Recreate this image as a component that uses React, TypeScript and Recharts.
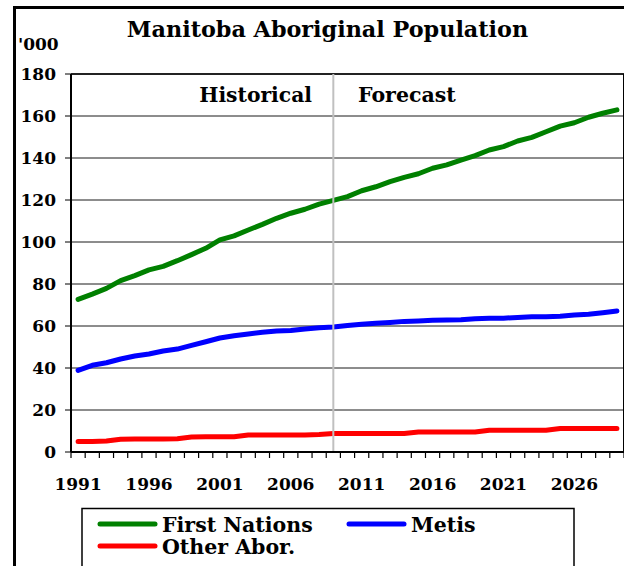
import React from 'react';
import { LineChart, Line, XAxis, YAxis, CartesianGrid, ReferenceLine } from 'recharts';

const years = [
  1991, 1992, 1993, 1994, 1995, 1996, 1997, 1998, 1999, 2000,
  2001, 2002, 2003, 2004, 2005, 2006, 2007, 2008, 2009, 2010,
  2011, 2012, 2013, 2014, 2015, 2016, 2017, 2018, 2019, 2020,
  2021, 2022, 2023, 2024, 2025, 2026, 2027, 2028, 2029,
];

const firstNations = [
  72.7, 75.2, 77.9, 81.6, 84.0, 86.7, 88.4, 91.1, 94.0, 97.0,
  101.0, 102.9, 105.7, 108.4, 111.3, 113.7, 115.6, 118.0, 119.8, 121.6,
  124.4, 126.3, 128.7, 130.8, 132.5, 135.1, 136.7, 139.0, 141.1, 143.8,
  145.4, 148.1, 149.8, 152.5, 155.2, 156.8, 159.4, 161.3, 162.9,
];

const metis = [
  38.9, 41.3, 42.5, 44.3, 45.7, 46.7, 48.1, 49.0, 50.8, 52.5,
  54.3, 55.4, 56.2, 57.0, 57.6, 57.9, 58.6, 59.2, 59.5, 60.2,
  60.8, 61.3, 61.7, 62.2, 62.4, 62.7, 62.9, 63.0, 63.5, 63.7,
  63.7, 64.1, 64.4, 64.4, 64.6, 65.2, 65.6, 66.3, 67.1,
];

const otherAbor = [
  5.0, 5.0, 5.2, 6.1, 6.2, 6.2, 6.2, 6.3, 7.1, 7.3,
  7.3, 7.3, 8.1, 8.1, 8.1, 8.1, 8.1, 8.3, 8.8, 8.8,
  8.8, 8.8, 8.8, 8.8, 9.5, 9.5, 9.5, 9.5, 9.5, 10.4,
  10.4, 10.4, 10.4, 10.4, 11.2, 11.2, 11.2, 11.2, 11.2,
];

const yTicks = [0, 20, 40, 60, 80, 100, 120, 140, 160, 180];
const xLabelYears = [1991, 1996, 2001, 2006, 2011, 2016, 2021, 2026];
const dividerYear = 2009;

const seriesNames = ['First Nations', 'Metis', 'Other Abor.'];
const seriesKeys = ['fn', 'metis', 'other'];
const seriesColors = ['#008000', '#0000ff', '#ff0000'];

const data = years.map((year, i) => ({
  year,
  fn: firstNations[i],
  metis: metis[i],
  other: otherAbor[i],
}));

const xMin = years[0] - 0.5;
const xMax = years[years.length - 1] + 0.5;
const boundaries = [...years.map((y) => y - 0.5), xMax];
const xTicks = [...boundaries, ...xLabelYears].sort((a, b) => a - b);

const FONT = '"DejaVu Serif", serif';

const renderXTick = (props: any) => {
  const { x, y, payload } = props;
  const v = payload.value;
  if (!Number.isInteger(v)) {
    return <line x1={x} x2={x} y1={y} y2={y + 6} stroke="#000" strokeWidth={1.2} />;
  }
  return (
    <text x={x} y={y + 38} textAnchor="middle" fontFamily={FONT} fontWeight="bold" fontSize={17} fill="#000">
      {v}
    </text>
  );
};

const legendCols = [100, 349];
const legendRows = [524, 546];

export default function App() {
  return (
    <div style={{ position: 'fixed', left: 0, top: 0, width: 624, height: 566, overflow: 'hidden', background: '#fff' }}>
      <div style={{ position: 'absolute', left: 13, top: 6, width: 700, height: 700, borderLeft: '3px solid #000', borderTop: '3px solid #000' }} />
      <div style={{ position: 'absolute', left: 0, top: 0 }}>
        <LineChart width={624} height={566} data={data} margin={{ top: 74, right: 0, bottom: 74, left: 11 }}>
          <CartesianGrid vertical={false} stroke="#1a1a1a" strokeWidth={1} />
          <XAxis
            dataKey="year"
            type="number"
            domain={[xMin, xMax]}
            ticks={xTicks}
            tick={renderXTick}
            tickLine={false}
            tickSize={0}
            tickMargin={0}
            interval={0}
            height={40}
            axisLine={{ stroke: '#000', strokeWidth: 2 }}
            allowDataOverflow
          />
          <YAxis
            type="number"
            domain={[0, 180]}
            ticks={yTicks}
            interval={0}
            width={60}
            tickSize={6}
            tickMargin={9}
            tickLine={{ stroke: '#000', strokeWidth: 1 }}
            axisLine={{ stroke: '#000', strokeWidth: 2 }}
            tick={{ fontFamily: FONT, fontWeight: 700, fontSize: 17, fill: '#000' }}
          />
          <ReferenceLine y={180} stroke="#000" strokeWidth={1.5} />
          <ReferenceLine x={xMax} stroke="#000" strokeWidth={2} />
          {seriesKeys.map((k, i) => (
            <Line
              key={k}
              type="linear"
              dataKey={k}
              name={seriesNames[i]}
              stroke={seriesColors[i]}
              strokeWidth={5}
              strokeLinecap="round"
              strokeLinejoin="round"
              dot={false}
              activeDot={false}
              isAnimationActive={false}
            />
          ))}
          <ReferenceLine x={dividerYear} stroke="#c0c0c0" strokeWidth={2} />
        </LineChart>
      </div>
      <svg width={624} height={566} style={{ position: 'absolute', left: 0, top: 0, pointerEvents: 'none' }}>
        <text x={327.5} y={37} textAnchor="middle" fontFamily={FONT} fontWeight="bold" fontSize={22.3} fill="#000">
          Manitoba Aboriginal Population
        </text>
        <text x={18} y={50} fontFamily={FONT} fontWeight="bold" fontSize={17} fill="#000">
          '000
        </text>
        <text x={312} y={102} textAnchor="end" fontFamily={FONT} fontWeight="bold" fontSize={20.3} fill="#000">
          Historical
        </text>
        <text x={358} y={102} fontFamily={FONT} fontWeight="bold" fontSize={20.5} fill="#000">
          Forecast
        </text>
        <rect x={82} y={508.5} width={492} height={80} fill="#fff" stroke="#000" strokeWidth={1.5} />
        {seriesNames.map((name, i) => {
          const cx = legendCols[i % 2];
          const cy = legendRows[Math.floor(i / 2)];
          return (
            <g key={name}>
              <line x1={cx} x2={cx + 55} y1={cy} y2={cy} stroke={seriesColors[i]} strokeWidth={5} strokeLinecap="round" />
              <text x={cx + 62} y={cy + 7.5} fontFamily={FONT} fontWeight="bold" fontSize={20.5} fill="#000">
                {name}
              </text>
            </g>
          );
        })}
      </svg>
    </div>
  );
}
